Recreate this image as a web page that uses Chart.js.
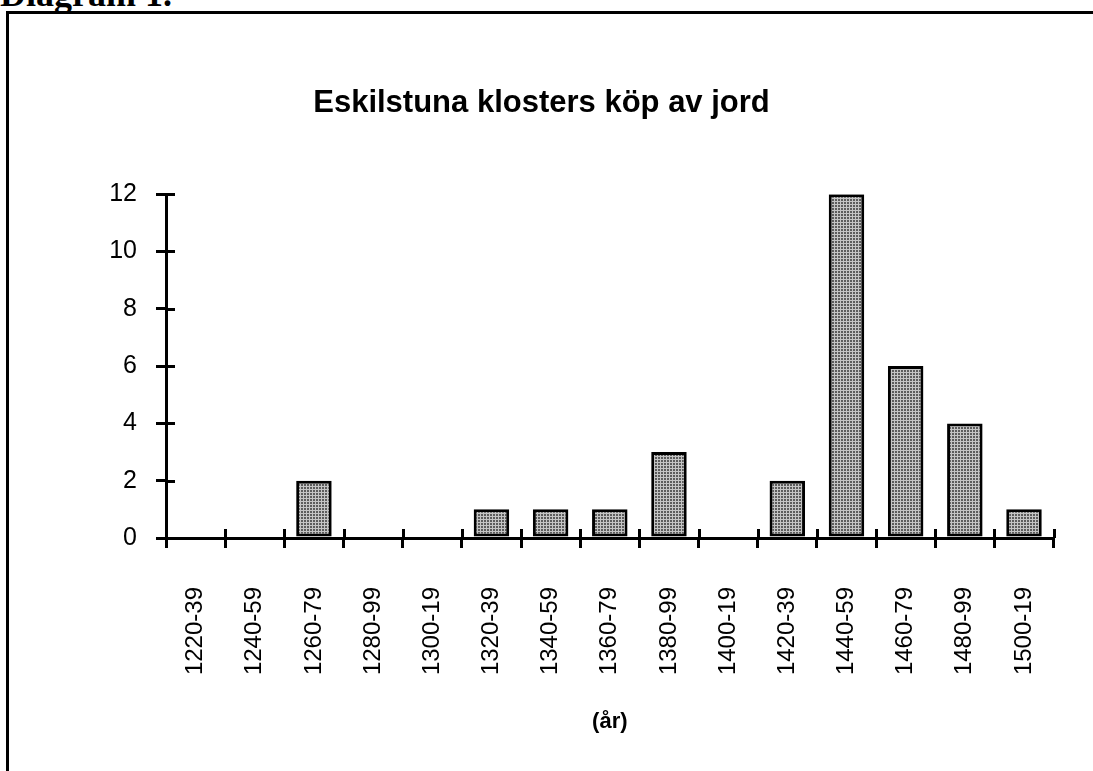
<!DOCTYPE html>
<html>
<head>
<meta charset="utf-8">
<script src="https://cdn.jsdelivr.net/npm/chart.js@4/dist/chart.umd.min.js"></script>
<style>
  body { margin: 0; background: #fff; overflow: hidden; }
  #caption {
    position: absolute; left: 0; top: -24px;
    font: bold 36px/36px "Liberation Serif", serif; color: #000;
  }
  #frame {
    position: absolute; left: 6px; top: 11px; width: 1200px; height: 900px;
    border-left: 3px solid #000; border-top: 3px solid #000;
  }
  #chart { position: absolute; left: 0; top: 0; }
</style>
</head>
<body>
<div id="caption">Diagram 1.</div>
<div id="frame"></div>
<canvas id="chart" width="1093" height="771"></canvas>
<script>
// Data
const categories = ["1220-39", "1240-59", "1260-79", "1280-99", "1300-19", "1320-39", "1340-59",
  "1360-79", "1380-99", "1400-19", "1420-39", "1440-59", "1460-79", "1480-99", "1500-19"];
const purchases = [0, 0, 2, 0, 0, 1, 1, 1, 3, 0, 2, 12, 6, 4, 1];
const yTicks = [0, 2, 4, 6, 8, 10, 12];

const ctx = document.getElementById("chart").getContext("2d");

// Grått rutmönster för staplarna
const tile = document.createElement("canvas");
tile.width = 3;
tile.height = 3;
const t = tile.getContext("2d");
t.fillStyle = "#5c5c5c";
t.fillRect(0, 0, 3, 3);
t.fillStyle = "#c4c4c4";
t.fillRect(0, 0, 3, 1);
t.fillRect(0, 0, 1, 3);
const pattern = ctx.createPattern(tile, "repeat");

// Korta streck som går in i diagrammet (axlarna korsas av strecken)
const innerTicks = {
  id: "innerTicks",
  afterDatasetsDraw(chart) {
    const { ctx, scales: { x, y } } = chart;
    ctx.save();
    ctx.strokeStyle = "#000";
    ctx.lineWidth = 3;
    y.ticks.forEach((tk) => {
      const py = Math.round(y.getPixelForValue(tk.value)) + 0.5;
      ctx.beginPath();
      ctx.moveTo(y.right, py);
      ctx.lineTo(y.right + 9, py);
      ctx.stroke();
    });
    for (let i = 0; i <= categories.length; i++) {
      const px = Math.round(x.left + (i * x.width) / categories.length) + 0.5;
      ctx.beginPath();
      ctx.moveTo(px, x.top - 9);
      ctx.lineTo(px, x.top);
      ctx.stroke();
    }
    ctx.restore();
  },
};

const family = "'Liberation Sans', Arial, sans-serif";

new Chart(ctx, {
  type: "bar",
  data: {
    labels: categories,
    datasets: [
      {
        data: purchases,
        backgroundColor: pattern,
        borderColor: "#000",
        borderWidth: 3,
        borderSkipped: false,
        categoryPercentage: 1,
        barPercentage: 0.6,
      },
    ],
  },
  options: {
    responsive: false,
    animation: false,
    layout: { padding: { left: 26, right: 36, top: 0, bottom: 0 } },
    plugins: {
      legend: { display: false },
      tooltip: { enabled: false },
      title: {
        display: true,
        text: "Eskilstuna klosters köp av jord",
        color: "#000",
        font: { family: family, size: 31, weight: "bold" },
        padding: { top: 85, bottom: 72 },
      },
    },
    scales: {
      x: {
        afterFit: (scale) => { scale.height = 233; },
        grid: { drawOnChartArea: false, offset: true, tickLength: 10, lineWidth: 3, color: "#000" },
        border: { display: true, color: "#000", width: 3 },
        ticks: { color: "#000", font: { family: family, size: 24 }, minRotation: 90, maxRotation: 90, autoSkip: false, padding: 39 },
        title: {
          display: true,
          text: "(år)",
          color: "#000",
          font: { family: family, size: 22, weight: "bold" },
          padding: { top: 0, bottom: 36 },
        },
      },
      y: {
        min: 0,
        max: 12,
        afterFit: (scale) => { scale.width = 140; },
        afterBuildTicks: (scale) => { scale.ticks = yTicks.map((v) => ({ value: v })); },
        grid: { drawOnChartArea: false, tickLength: 10, lineWidth: 3, color: "#000" },
        border: { display: true, color: "#000", width: 3 },
        ticks: { color: "#000", font: { family: family, size: 25 }, padding: 19 },
      },
    },
  },
  plugins: [innerTicks],
});
</script>
</body>
</html>
